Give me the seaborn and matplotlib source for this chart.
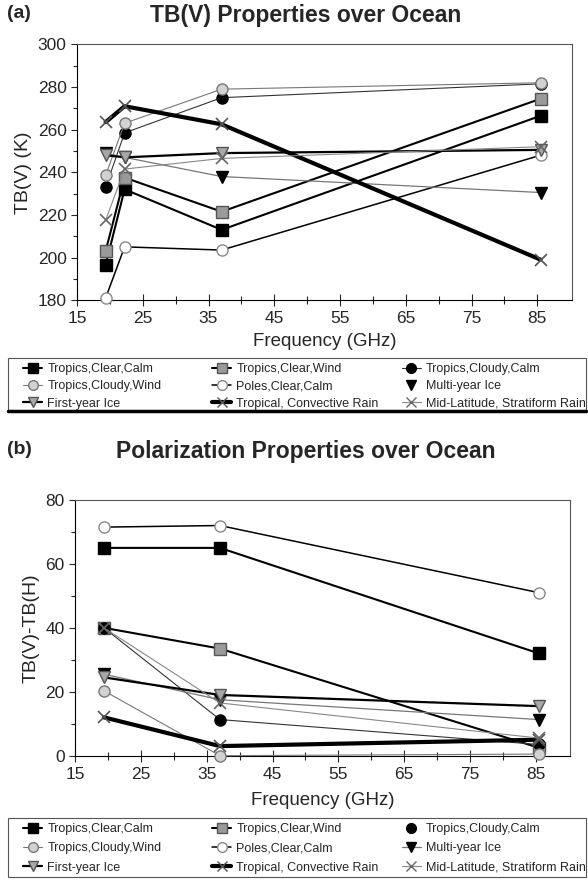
import numpy as np
import pandas as pd
import matplotlib
matplotlib.use("Agg")
import matplotlib.pyplot as plt
import seaborn as sns
from matplotlib.lines import Line2D
from matplotlib.patches import Rectangle

sns.set_theme(style="white")
plt.rcParams['font.family'] = ['Liberation Sans', 'DejaVu Sans']

# ---------------- data ----------------
series_names = ["Tropics,Clear,Calm", "Tropics,Clear,Wind", "Tropics,Cloudy,Calm",
                "Tropics,Cloudy,Wind", "Poles,Clear,Calm", "Multi-year Ice",
                "First-year Ice", "Tropical, Convective Rain", "Mid-Latitude, Stratiform Rain"]

freq_a = [19.35, 22.235, 37.0, 85.5]
clear_calm_a = [196.5, 232.0, 213.0, 266.5]
clear_wind_a = [203.0, 237.5, 221.5, 274.5]
cloudy_calm_a = [233.0, 258.5, 275.0, 281.5]
cloudy_wind_a = [238.5, 263.0, 279.0, 282.0]
poles_a = [181.0, 205.0, 203.5, 248.0]
multi_ice_a = [249.0, 247.0, 238.0, 230.5]
first_ice_a = [248.0, 247.0, 249.0, 250.5]
conv_rain_a = [263.5, 271.0, 262.5, 199.0]
strat_rain_a = [217.5, 241.5, 246.5, 252.0]

freq_b = [19.35, 37.0, 85.5]
clear_calm_b = [65.0, 65.0, 32.0]
clear_wind_b = [40.0, 33.5, 2.5]
cloudy_calm_b = [40.0, 11.3, 3.5]
cloudy_wind_b = [20.3, 0.0, 0.5]
poles_b = [71.5, 72.0, 51.0]
multi_ice_b = [25.5, 17.5, 11.3]
first_ice_b = [24.5, 19.0, 15.5]
conv_rain_b = [12.0, 3.0, 5.0]
strat_rain_b = [40.0, 16.5, 5.5]

xticks = [15, 25, 35, 45, 55, 65, 75, 85]
yticks_a = [180, 200, 220, 240, 260, 280, 300]
yticks_b = [0, 20, 40, 60, 80]

# --------------- styles ---------------
styles = {
    "Tropics,Clear,Calm": dict(color="black", lw=1.5, marker="s", mfc="black", mec="black", ms=8),
    "Tropics,Clear,Wind": dict(color="black", lw=1.5, marker="s", mfc="#9a9a9a", mec="#555555", ms=8),
    "Tropics,Cloudy,Calm": dict(color="#333333", lw=0.8, marker="o", mfc="black", mec="black", ms=8),
    "Tropics,Cloudy,Wind": dict(color="#777777", lw=0.8, marker="o", mfc="#d2d2d2", mec="#777777", ms=8),
    "Poles,Clear,Calm": dict(color="black", lw=1.1, marker="o", mfc="white", mec="#888888", ms=8),
    "Multi-year Ice": dict(color="#777777", lw=0.9, marker="v", mfc="black", mec="black", ms=8),
    "First-year Ice": dict(color="black", lw=1.6, marker="v", mfc="#a8a8a8", mec="#555555", ms=8),
    "Tropical, Convective Rain": dict(color="black", lw=3.0, marker="x", mfc="black", mec="#555555", ms=9),
    "Mid-Latitude, Stratiform Rain": dict(color="#888888", lw=0.8, marker="x", mfc="#888888", mec="#666666", ms=9),
}

vals_a = [clear_calm_a, clear_wind_a, cloudy_calm_a, cloudy_wind_a, poles_a,
          multi_ice_a, first_ice_a, conv_rain_a, strat_rain_a]
vals_b = [clear_calm_b, clear_wind_b, cloudy_calm_b, cloudy_wind_b, poles_b,
          multi_ice_b, first_ice_b, conv_rain_b, strat_rain_b]

fig = plt.figure(figsize=(5.88, 8.88), dpi=100)
ax_a = fig.add_axes([0.131, 0.662, 0.842, 0.288])
ax_b = fig.add_axes([0.128, 0.149, 0.842, 0.288])

def draw(ax, freqs, vals):
    for name, v in zip(series_names, vals):
        st = styles[name]
        df = pd.DataFrame({"f": freqs, "v": v})
        sns.lineplot(data=df, x="f", y="v", ax=ax, color=st["color"], linewidth=st["lw"],
                     marker=st["marker"], markerfacecolor=st["mfc"], markeredgecolor=st["mec"],
                     markersize=st["ms"], markeredgewidth=1.0 if st["marker"] != "x" else 1.2,
                     estimator=None, sort=False, legend=False, clip_on=False, zorder=3)

draw(ax_a, freq_a, vals_a)
draw(ax_b, freq_b, vals_b)

def style_axes(ax, ylim, yticks, ylabel, lpad):
    ax.set_xlim(15, 90.3)
    ax.set_ylim(*ylim)
    ax.set_xticks(xticks)
    ax.set_xticks(np.arange(15, 90, 5), minor=True)
    ax.set_yticks(yticks)
    ax.set_yticks(np.arange(ylim[0], ylim[1] + 1, 10), minor=True)
    ax.tick_params(axis="x", which="major", direction="inout", length=8, width=0.8,
                   labelsize=12.5, pad=4, bottom=True)
    ax.tick_params(axis="x", which="minor", direction="inout", length=6, width=0.8, bottom=True)
    ax.tick_params(axis="y", which="major", direction="out", length=4, width=0.8,
                   labelsize=12.5, left=True)
    ax.tick_params(axis="y", which="minor", direction="out", length=3, width=0.8, left=True)
    for s in ax.spines.values():
        s.set_visible(True)
        s.set_color("black")
        s.set_linewidth(0.8)
    ax.spines["top"].set_color("#555555")
    ax.spines["right"].set_color("#555555")
    ax.set_xlabel("Frequency (GHz)", fontsize=13.5, labelpad=lpad)
    ax.set_ylabel(ylabel, fontsize=14)
    ax.grid(False)

style_axes(ax_a, (180, 300), yticks_a, "TB(V) (K)", 5)
style_axes(ax_b, (0, 80), yticks_b, "TB(V)-TB(H)", 7)

fig.text(0.52, 0.983, "TB(V) Properties over Ocean",
         ha="center", va="center", fontsize=16.5, fontweight="bold")
fig.text(0.012, 0.985, "(a)", ha="left", va="center", fontsize=14, fontweight="bold")
fig.text(0.52, 0.491, "Polarization Properties over Ocean",
         ha="center", va="center", fontsize=16.5, fontweight="bold")
fig.text(0.012, 0.494, "(b)", ha="left", va="center", fontsize=14, fontweight="bold")

# legends: three columns, row-major reading order
def make_handle(name, show_line=True):
    st = styles[name]
    return Line2D([], [], color=st["color"], lw=st["lw"] if show_line else 0,
                  linestyle="-" if show_line else "none", marker=st["marker"],
                  markerfacecolor=st["mfc"], markeredgecolor=st["mec"], markersize=7)

col_x = [0.039, 0.3605, 0.683]
columns = [[0, 3, 6], [1, 4, 7], [2, 5, 8]]

def draw_legend(top, box, spacing, no_line):
    for cx, idxs in zip(col_x, columns):
        hs = [make_handle(series_names[i], series_names[i] != no_line) for i in idxs]
        fig.legend(hs, [series_names[i] for i in idxs], ncol=1, loc="upper left",
                   bbox_to_anchor=(cx, top), frameon=False, fontsize=9.0,
                   handlelength=1.55, handletextpad=0.4, labelspacing=spacing,
                   borderpad=0.0, borderaxespad=0.0)
    fig.add_artist(Rectangle((box[0], box[1]), box[2], box[3], transform=fig.transFigure,
                             fill=False, edgecolor="#555555", lw=0.8))

draw_legend(0.591, (0.0136, 0.537, 0.983, 0.0597), 0.42, "Multi-year Ice")
draw_legend(0.073, (0.0136, 0.0124, 0.983, 0.0664), 0.58, "Tropics,Cloudy,Calm")

fig.add_artist(Line2D([0.0136, 0.9966], [0.537, 0.537], color="black", lw=2.5,
                      transform=fig.transFigure))

fig.savefig("out.png", dpi=100, facecolor="white")
